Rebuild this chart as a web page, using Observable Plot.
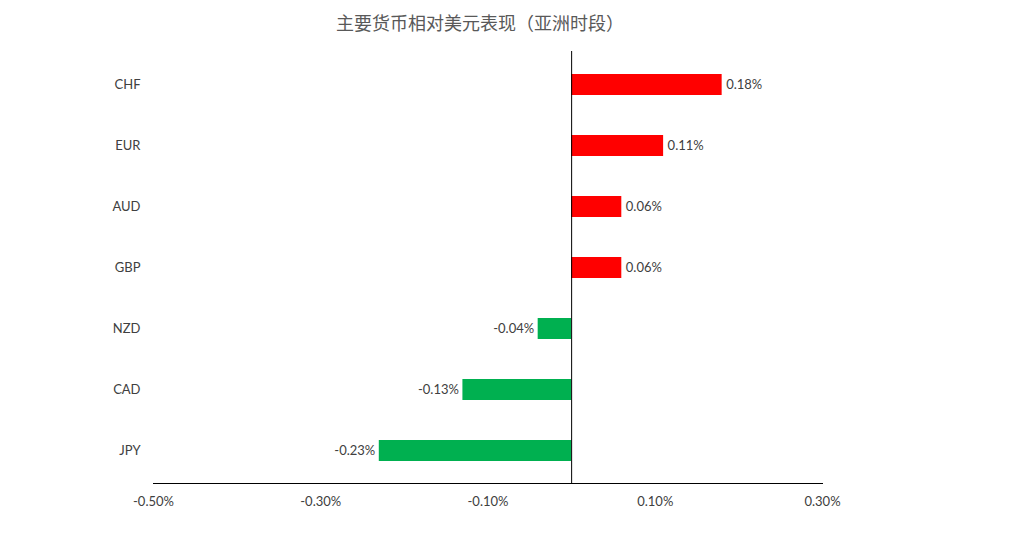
<!DOCTYPE html>
<html><head><meta charset="utf-8">
<script src="https://cdn.jsdelivr.net/npm/d3@7"></script>
<script src="https://cdn.jsdelivr.net/npm/@observablehq/plot@0.6"></script>
<style>
body{margin:0;background:#fff;width:1021px;height:549px;overflow:hidden}
#title{width:960px;height:44px;line-height:44px;text-align:center;font-family:"Noto Sans CJK SC";font-size:18px;color:#595959}
#chart svg{display:block}
</style></head><body>
<div id="title">主要货币相对美元表现（亚洲时段）</div>
<div id="chart"></div>
<script>
const currencies = ["CHF","EUR","AUD","GBP","NZD","CAD","JPY"];
const values = [0.18, 0.11, 0.06, 0.06, -0.04, -0.13, -0.23];
const labels = ["0.18%","0.11%","0.06%","0.06%","-0.04%","-0.13%","-0.23%"];
const xTicks = [-0.5, -0.3, -0.1, 0.1, 0.3];

const data = currencies.map((c, i) => ({c, v: values[i], label: labels[i]}));
const font = "Lato, 'Open Sans', sans-serif";

const chart = Plot.plot({
  width: 1021,
  height: 505,
  marginTop: 7,
  marginBottom: 66,
  marginLeft: 153,
  marginRight: 199,
  style: {fontFamily: font, fontSize: "13px", color: "#404040", background: "#fff"},
  x: {domain: [-0.5, 0.3], ticks: xTicks, tickFormat: d => d.toFixed(2) + "%", label: null},
  y: {domain: currencies, padding: 0, label: null},
  marks: [
    Plot.barX(data, {y: "c", x: "v", fill: d => d.v >= 0 ? "#FF0000" : "#00B050", insetTop: 20, insetBottom: 20}),
    Plot.ruleX([0], {stroke: "#000", strokeWidth: 1}),
    Plot.frame({anchor: "bottom", stroke: "#000"}),
    Plot.axisX({ticks: xTicks, tickFormat: d => d.toFixed(2) + "%", tickSize: 0, tickPadding: 13, fontSize: 13, fill: "#404040", label: null}),
    Plot.axisY({tickSize: 0, tickPadding: 13, fontSize: 13, fill: "#404040", label: null}),
    Plot.text(data.filter(d => d.v >= 0), {y: "c", x: "v", text: "label", textAnchor: "start", dx: 4, fill: "#404040", fontSize: 13}),
    Plot.text(data.filter(d => d.v < 0), {y: "c", x: "v", text: "label", textAnchor: "end", dx: -4, fill: "#404040", fontSize: 13})
  ]
});
document.getElementById("chart").appendChild(chart);
</script>
</body></html>
